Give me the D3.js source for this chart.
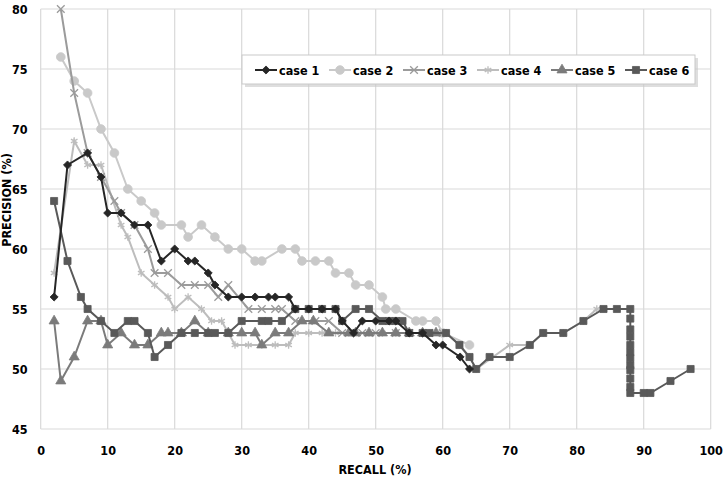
<!DOCTYPE html>
<html><head><meta charset="utf-8">
<script src="https://cdn.jsdelivr.net/npm/d3@7"></script>
<style>body{margin:0;background:#fff}svg{display:block}
text{font-family:"DejaVu Sans Condensed","DejaVu Sans",sans-serif;font-weight:bold;fill:#000}</style>
</head><body><div id="chart"></div>
<script>
const xTicks = [0,10,20,30,40,50,60,70,80,90,100];
const yTicks = [45,50,55,60,65,70,75,80];
const seriesNames = ["case 1","case 2","case 3","case 4","case 5","case 6"];

const case1 = [[2,56],[4,67],[7,68],[9,66],[10,63],[12,63],[14,62],[16,62],[18,59],[20,60],[22,59],[23,59],[25,58],[26,57],[28,56],[30,56],[32,56],[34,56],[35,56],[37,56],[38,55],[40,55],[42,55],[44,55],[45,54],[46.7,53],[48,54],[50,54],[52,54],[53,54],[55,53],[57,53],[59,52],[60,52],[62.6,51],[64,50]];
const case2 = [[3,76],[5,74],[7,73],[9,70],[11,68],[13,65],[15,64],[17,63],[18,62],[21,62],[22,61],[24,62],[26,61],[28,60],[30,60],[32,59],[33,59],[36,60],[38,60],[39,59],[41,59],[43,59],[44,58],[46,58],[47,57],[49,57],[51,56],[51.5,55],[53,55],[56,54],[57,54],[59,54],[60,53],[64,52]];
const case3 = [[3,80],[5,73],[7,68],[9,66],[11,64],[12,63],[14,62],[16,60],[17,58],[19,58],[21,57],[23,57],[25,57],[26.5,56],[28,57],[31,55],[33,55],[35,55],[36,55],[38,54],[41,54],[43,54],[45,53],[48,53],[50,53],[53,53],[55,53],[58,53],[60,53]];
const case4 = [[2,58],[5,69],[7,67],[9,67],[12,62],[13,61],[15,58],[17,57],[19,56],[20,55],[22,56],[24,55],[25.5,54],[27,54],[29,52],[31,52],[33,52],[35,52],[37,52],[38,53],[40,53],[42,53],[44,53],[46,53],[49,53],[51,53],[53,53],[55,53],[58,53],[60.5,53],[62.5,52],[64,51],[65,50],[70,52],[73,52],[75,53],[78,53],[81,54],[83,55]];
const case5 = [[2,54],[3,49],[5,51],[7,54],[9,54],[10,52],[12,53],[14,52],[16,52],[18,53],[19,53],[21,53],[23,54],[25,53],[28,53],[30,53],[32,53],[33,52],[35,53],[37,53],[39,54],[40.7,54],[43,53],[46,53],[47,53],[49,53],[51,53],[53,53],[55,53],[57,53],[59,53]];
const case6 = [[2,64],[4,59],[6,56],[7,55],[9,54],[11,53],[13,54],[14,54],[16,53],[17,51],[19,52],[21,53],[23,53],[25,53],[26,53],[28,53],[30,54],[33,54],[34,54],[36,54],[38,55],[40,55],[42,55],[44,55],[45,54],[47,55],[49,55],[51,54],[52,54],[53,54],[54,54],[55,53],[57,53],[58,53],[60.5,53],[62.5,52],[64,51],[65,50],[67,51],[70,51],[73,52],[75,53],[78,53],[81,54],[84,55],[86,55],[88,55],[88,54.2],[88,53.3],[88,52.7],[88,52],[88,51.4],[88,50.9],[88,50.3],[88,49.9],[88,49.2],[88,48.5],[88,48],[90,48],[91,48],[94,49],[97,50]];

const seriesData = [case1,case2,case3,case4,case5,case6];
const colors = ["#262626","#c9c9c9","#9b9b9b","#bdbdbd","#7b7b7b","#595959"];
const symbols = [d3.symbolDiamond2, d3.symbolCircle, d3.symbolX, d3.symbolAsterisk, d3.symbolTriangle, d3.symbolSquare];

const W = 723, H = 482;
const svg = d3.select("#chart").append("svg").attr("width", W).attr("height", H);
const x = d3.scaleLinear().domain([0,100]).range([40.7,710.7]);
const y = d3.scaleLinear().domain([45,80]).range([429,9]);

svg.append("g").selectAll("line").data(xTicks).join("line")
  .attr("x1", d=>x(d)).attr("x2", d=>x(d)).attr("y1", y(80)).attr("y2", y(45))
  .attr("stroke", "#d9d9d9").attr("stroke-width", 1.2);
svg.append("g").selectAll("line").data(yTicks).join("line")
  .attr("x1", x(0)).attr("x2", x(100)).attr("y1", d=>y(d)).attr("y2", d=>y(d))
  .attr("stroke", "#d9d9d9").attr("stroke-width", 1.2);

const tickFont = '"DejaVu Sans Condensed","DejaVu Sans",sans-serif';
const xAxis = svg.append("g").attr("transform", `translate(0,${y(45)})`)
  .call(d3.axisBottom(x).tickValues(xTicks).tickSize(0).tickPadding(17));
xAxis.select(".domain").remove();
xAxis.selectAll("text").attr("font-size", 12.5).attr("font-family", tickFont).attr("font-weight","bold").attr("fill","#000");
const yAxis = svg.append("g").attr("transform", `translate(${x(0)},0)`)
  .call(d3.axisLeft(y).tickValues(yTicks).tickSize(0).tickPadding(13));
yAxis.select(".domain").remove();
yAxis.selectAll("text").attr("font-size", 12.5).attr("font-family", tickFont).attr("font-weight","bold").attr("fill","#000");

svg.append("text").attr("x", 375).attr("y", 474).attr("text-anchor","middle")
  .attr("font-size", 12.5).text("RECALL (%)");
svg.append("text").attr("transform", "translate(11,200) rotate(-90)").attr("text-anchor","middle")
  .attr("font-size", 12.5).attr("font-weight","normal").text("PRECISION (%)");

const line = d3.line().x(d=>x(d[0])).y(d=>y(d[1]));
const symSize = [42, 60, 40, 40, 44, 50];

function drawMarker(g, i, cx, cy) {
  const isStroke = (i===2 || i===3);
  g.append("path").attr("transform", `translate(${cx},${cy})`)
    .attr("d", d3.symbol().type(symbols[i]).size(symSize[i])())
    .attr("fill", isStroke ? "none" : colors[i])
    .attr("stroke", colors[i]).attr("stroke-width", isStroke ? 1.3 : 0.8);
}

[1,3,2,4,5,0].forEach(i => {
  const g = svg.append("g");
  g.append("path").datum(seriesData[i]).attr("d", line)
    .attr("fill","none").attr("stroke", colors[i]).attr("stroke-width", 2);
  seriesData[i].forEach(d => drawMarker(g, i, x(d[0]), y(d[1])));
});

const lg = svg.append("g");
lg.append("rect").attr("x", 245).attr("y", 58).attr("width", 453).attr("height", 29)
  .attr("fill", "#c8c8c8").attr("opacity", 0.6);
lg.append("rect").attr("x", 242).attr("y", 55).attr("width", 453).attr("height", 29)
  .attr("fill", "#fff").attr("stroke", "#c9c9c9");
const legX = [255, 329, 403, 477, 551, 625];
seriesNames.forEach((n,i) => {
  const lx = legX[i], ly = 70;
  lg.append("line").attr("x1", lx).attr("x2", lx+22).attr("y1", ly).attr("y2", ly)
    .attr("stroke", colors[i]).attr("stroke-width", 2);
  drawMarker(lg, i, lx+11, ly);
  lg.append("text").attr("x", lx+24).attr("y", ly+4.5).attr("font-size", 12.5).text(n);
});
</script></body></html>
